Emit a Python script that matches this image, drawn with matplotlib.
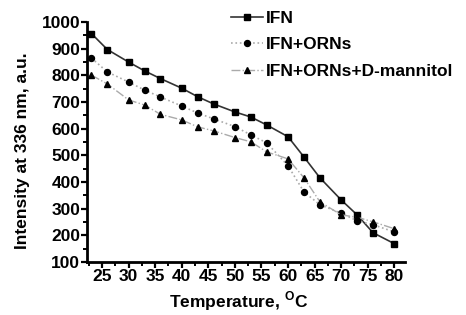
import matplotlib
matplotlib.use("Agg")
import matplotlib.pyplot as plt
from matplotlib.ticker import MultipleLocator

temperature = [23, 26, 30, 33, 36, 40, 43, 46, 50, 53, 56, 60, 63, 66, 70, 73, 76, 80]
ifn = [957, 897, 850, 817, 788, 752, 720, 693, 663, 644, 614, 570, 494, 416, 333, 277, 210, 169]
ifn_orns = [865, 813, 775, 745, 719, 685, 659, 637, 608, 577, 547, 461, 363, 315, 283, 255, 240, 213]
ifn_orns_mannitol = [801, 768, 708, 689, 654, 633, 607, 592, 567, 551, 513, 487, 416, 326, 277, 268, 251, 225]
labels = ["IFN", "IFN+ORNs", "IFN+ORNs+D-mannitol"]

plt.rcParams['font.family'] = ['Liberation Sans', 'DejaVu Sans']
plt.rcParams['font.weight'] = 'bold'
plt.rcParams['mathtext.fontset'] = 'custom'
plt.rcParams['mathtext.bf'] = 'Liberation Sans:bold'
plt.rcParams['mathtext.rm'] = 'Liberation Sans:bold'

fig = plt.figure(figsize=(4.66, 3.15), dpi=100)
ax = fig.add_axes([0.187, 0.168, 0.682, 0.762])

ax.plot(temperature, ifn, color='#333333', lw=1.2, ls='-', marker='s', ms=3.8,
        mfc='black', mec='black', label=labels[0])
ax.plot(temperature, ifn_orns, color='#aaaaaa', lw=1.2, ls=':', marker='o', ms=4.3,
        mfc='black', mec='black', label=labels[1])
ax.plot(temperature, ifn_orns_mannitol, color='#aaaaaa', lw=1.0, ls='-.', marker='^', ms=4.8,
        mfc='black', mec='black', label=labels[2])

ax.set_xlim(22.2, 82)
ax.set_ylim(100, 1000)
ax.xaxis.set_minor_locator(MultipleLocator(2.5))
ax.yaxis.set_major_locator(MultipleLocator(100))
ax.yaxis.set_minor_locator(MultipleLocator(50))
ax.set_xticks(range(25, 81, 5))

for s in ['top', 'right']:
    ax.spines[s].set_visible(False)
for s in ['left', 'bottom']:
    ax.spines[s].set_linewidth(2)
ax.tick_params(which='major', direction='out', length=4, width=1.6, labelsize=12.5, pad=1)
ax.tick_params(which='minor', direction='out', length=3, width=1.4)

ax.set_xlabel(r'Temperature, $^{\mathbf{O}}$C', fontsize=12.5, fontweight='bold')
ax.set_ylabel('Intensity at 336 nm, a.u.', fontsize=12.5, fontweight='bold')
ax.xaxis.label.set_va('center')
ax.xaxis.set_label_coords(0.475, -0.165)
ax.yaxis.label.set_va('center')
ax.yaxis.set_label_coords(-0.204, 0.4625)

fig.legend(loc='upper left', bbox_to_anchor=(0.463, 1.015), frameon=False,
           handlelength=1.8, handletextpad=0.2, labelspacing=0.65,
           prop={'weight': 'bold', 'size': 12.5})

fig.savefig('out.png', dpi=100)
